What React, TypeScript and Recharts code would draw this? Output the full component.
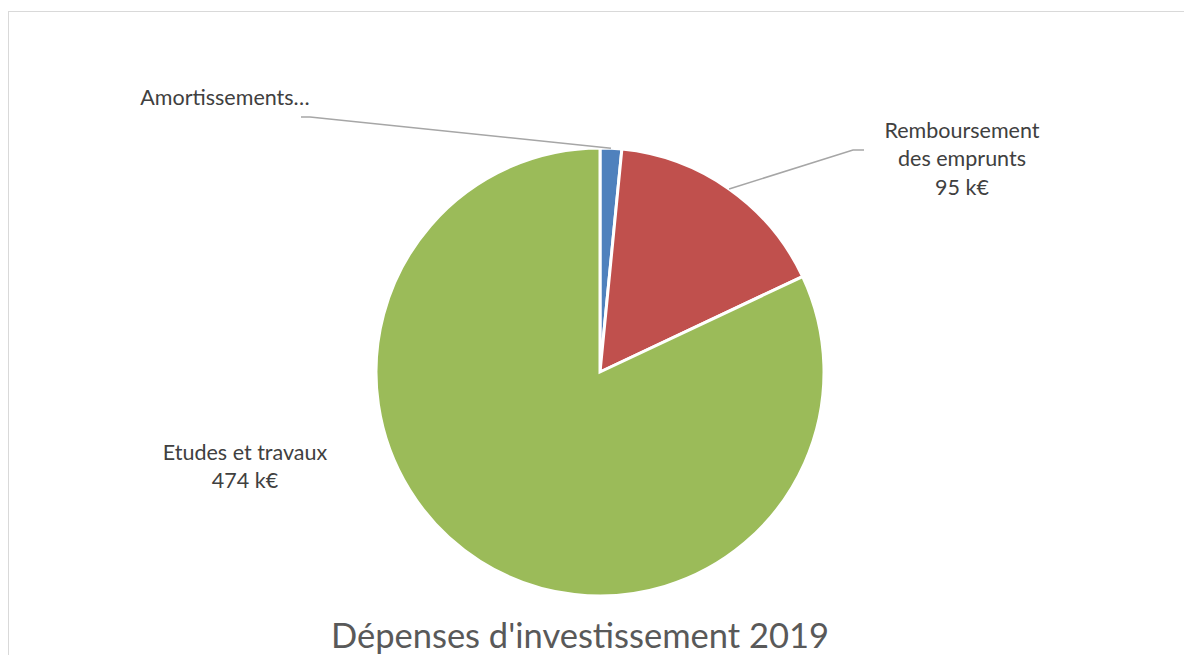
import { PieChart, Pie, Cell } from 'recharts';

const categories = ['Amortissements…', 'Remboursement des emprunts', 'Etudes et travaux'];
const values = [9, 95, 474];
const labelLines = [['Amortissements…'], ['Remboursement', 'des emprunts', '95 k€'], ['Etudes et travaux', '474 k€']];
const colors = ['#4f81bd', '#c0504d', '#9bbb59'];

const data = categories.map((name, i) => ({ name, value: values[i] }));

// label placement relative to pie centre (text centre, leader elbow, leader end)
const LABEL_LAYOUT = [
  { tx: -375, ty: -275, leader: [[-290, -255], [-299, -255]] },
  { tx: 362, ty: -214, leader: [[253, -222], [264, -222]] },
  { tx: -355, ty: 94, leader: null },
];

const FONT = 'Lato, "Open Sans", sans-serif';
const RADIAN = Math.PI / 180;

function renderLabel(props: any) {
  const { cx, cy, midAngle, outerRadius, index } = props;
  const layout = LABEL_LAYOUT[index];
  const lines = labelLines[index];
  const lineH = 28.5;
  const startY = cy + layout.ty - ((lines.length - 1) * lineH) / 2;
  const px = cx + outerRadius * Math.cos(-midAngle * RADIAN);
  const py = cy + outerRadius * Math.sin(-midAngle * RADIAN);
  return (
    <g key={`lbl-${index}`}>
      {layout.leader && (
        <polyline
          points={`${px},${py} ${cx + layout.leader[0][0]},${cy + layout.leader[0][1]} ${cx + layout.leader[1][0]},${cy + layout.leader[1][1]}`}
          fill="none"
          stroke="#a6a6a6"
          strokeWidth={1.5}
        />
      )}
      <text
        x={cx + layout.tx}
        y={startY}
        textAnchor="middle"
        dominantBaseline="central"
        fill="#404040"
        fontSize={21.5}
        fontFamily={FONT}
      >
        {lines.map((l, i) => (
          <tspan key={i} x={cx + layout.tx} y={startY + i * lineH}>
            {l}
          </tspan>
        ))}
      </text>
    </g>
  );
}

export default function App() {
  return (
    <div style={{ width: 1184, height: 655, background: '#ffffff', overflow: 'hidden' }}>
      <style>{'body{margin:0}'}</style>
      <div
        style={{
          position: 'relative',
          width: 1190,
          height: 660,
          marginLeft: 8,
          marginTop: 0,
          top: 11,
          borderTop: '1px solid #d9d9d9',
          borderLeft: '1px solid #d9d9d9',
          background: '#ffffff',
        }}
      >
        <PieChart width={1167} height={600}>
          <Pie
            data={data}
            dataKey="value"
            nameKey="name"
            cx={586}
            cy={355}
            outerRadius={224}
            startAngle={90}
            endAngle={-270}
            stroke="#ffffff"
            strokeWidth={3}
            label={renderLabel}
            labelLine={false}
            isAnimationActive={false}
          >
            {data.map((d, i) => (
              <Cell key={d.name} fill={colors[i]} />
            ))}
          </Pie>
        </PieChart>
        <div
          style={{
            position: 'absolute',
            left: 271,
            width: 600,
            top: 606,
            textAlign: 'center',
            fontFamily: FONT,
            fontSize: 34.5,
            color: '#595959',
            lineHeight: '34px',
            whiteSpace: 'nowrap',
          }}
        >
          Dépenses d'investissement 2019
        </div>
      </div>
    </div>
  );
}
